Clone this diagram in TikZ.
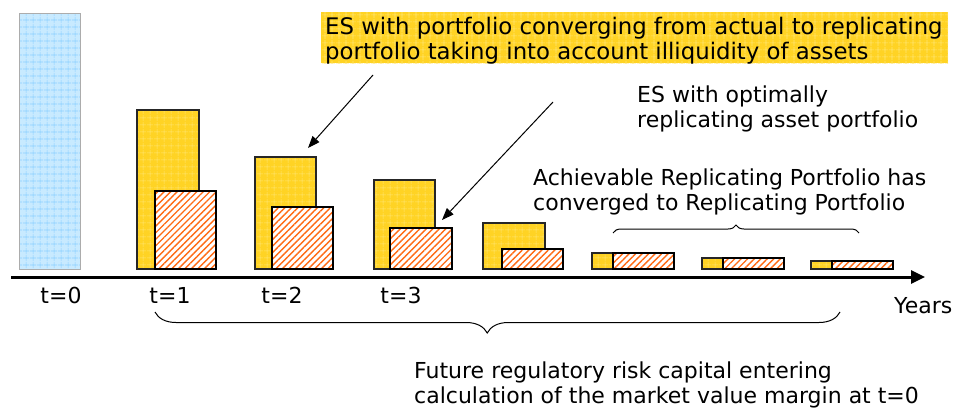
\documentclass[tikz,border=0pt]{standalone}
\usepackage{fontspec}
\setmainfont{DejaVu Sans}
\usetikzlibrary{arrows.meta,patterns.meta,decorations.pathreplacing}

\definecolor{gold}{HTML}{FFD324}
\definecolor{goldgrid}{HTML}{FFE46E}
\definecolor{sky}{HTML}{C8EAFF}
\definecolor{skygrid}{HTML}{8CD0FF}
\definecolor{hatchcol}{HTML}{FF6A13}

\tikzset{
  bar/.style={anchor=south west, inner sep=0pt, outer sep=0pt},
  startbar/.style={bar, draw=gray!65, line width=1pt, preaction={fill=sky},
    pattern={Hatch[angle=0,distance=6.5pt,line width=0.6pt]}, pattern color=skygrid},
  actualbar/.style={bar, draw=black!85, line width=1.2pt, preaction={fill=gold},
    pattern={Hatch[angle=0,distance=6.5pt,line width=0.6pt]}, pattern color=goldgrid},
  replbar/.style={bar, draw=black, line width=1.2pt, preaction={fill=white},
    pattern={Lines[angle=45,distance=4.6pt,line width=1.4pt]}, pattern color=hatchcol},
  txt/.style={inner sep=0pt, font=\fontsize{22}{25}\selectfont, align=left},
  pointer/.style={line width=1pt, -{Triangle[length=12pt,width=9pt]}},
  bracebig/.style={decorate, line width=1pt, decoration={brace, amplitude=21pt, aspect=0.515}},
  bracesmall/.style={decorate, line width=1pt, decoration={brace, amplitude=8pt, aspect=0.5}},
}

\begin{document}
\begin{tikzpicture}[x=1pt, y=-1pt]
  \useasboundingbox (0,0) rectangle (957,408);

  % t = 0
  \node[startbar, minimum width=61pt, minimum height=256pt] (b0) at (19,269) {};

  % years 1..7: actual portfolio (gold) and replicating portfolio (hatched)
  \node[actualbar, minimum width=62pt, minimum height=159pt] (y1) at (137,269) {};
  \node[replbar,   minimum width=61pt, minimum height=78pt]  (r1) at (155,269) {};
  \node[actualbar, minimum width=61pt, minimum height=112pt] (y2) at (255,269) {};
  \node[replbar,   minimum width=61pt, minimum height=62pt]  (r2) at (272,269) {};
  \node[actualbar, minimum width=61pt, minimum height=89pt]  (y3) at (374,269) {};
  \node[replbar,   minimum width=62pt, minimum height=41pt]  (r3) at (390,269) {};
  \node[actualbar, minimum width=62pt, minimum height=46pt]  (y4) at (483,269) {};
  \node[replbar,   minimum width=61pt, minimum height=20pt]  (r4) at (502,269) {};
  \node[actualbar, minimum width=21pt, minimum height=16pt]  (y5) at (592,269) {};
  \node[replbar,   minimum width=61pt, minimum height=16pt]  (r5) at (613,269) {};
  \node[actualbar, minimum width=21pt, minimum height=11pt]  (y6) at (702,269) {};
  \node[replbar,   minimum width=61pt, minimum height=11pt]  (r6) at (723,269) {};
  \node[actualbar, minimum width=21pt, minimum height=8pt]   (y7) at (811,269) {};
  \node[replbar,   minimum width=61pt, minimum height=8pt]   (r7) at (832,269) {};

  % time axis
  \coordinate (axstart) at (11,277);
  \coordinate (axend) at (925,277);
  \draw[line width=3pt, -{Triangle[length=14pt,width=13pt]}] (axstart) -- (axend);

  \node[txt, anchor=base] (t0) at (61,303) {t=0};
  \node[txt, anchor=base] (t1) at (170,303) {t=1};
  \node[txt, anchor=base] (t2) at (282,303) {t=2};
  \node[txt, anchor=base] (t3) at (401,303) {t=3};
  \node[txt, anchor=base west] (years) at (894,313) {Years};

  % highlighted label
  \node[anchor=north west, inner sep=0pt, minimum width=627pt, minimum height=51pt,
        preaction={fill=gold},
        pattern={Hatch[angle=0,distance=6.5pt,line width=0.6pt]}, pattern color=goldgrid]
    (convbg) at (321,12) {};
  \node[txt, font=\fontsize{22.8}{25}\selectfont, anchor=north west] (conv) at (325,16.7)
    {ES with portfolio converging from actual to replicating\\portfolio taking into account illiquidity of assets};

  \node[txt, anchor=north west] (opt) at (637,85.3)
    {ES with optimally\\replicating asset portfolio};

  \node[txt, anchor=north west] (ach) at (533,168.3)
    {Achievable Replicating Portfolio has\\converged to Replicating Portfolio};

  \node[txt, anchor=north west] (fut) at (414,361.3)
    {Future regulatory risk capital entering\\calculation of the market value margin at t=0};

  % pointers
  \coordinate (p1) at (373,75);
  \coordinate (p2) at (553,102);
  \draw[pointer] (p1) -- ([shift={(-8,-9)}]y2.north east);
  \draw[pointer] (p2) -- ([shift={(-10,-8)}]r3.north east);

  % braces
  \coordinate (ub1) at (613,233);
  \coordinate (ub2) at (859,233);
  \draw[bracesmall] (ub1) -- (ub2);
  \coordinate (lb1) at (155,312);
  \coordinate (lb2) at (840,312);
  \draw[bracebig] (lb2) -- (lb1);
\end{tikzpicture}
\end{document}
